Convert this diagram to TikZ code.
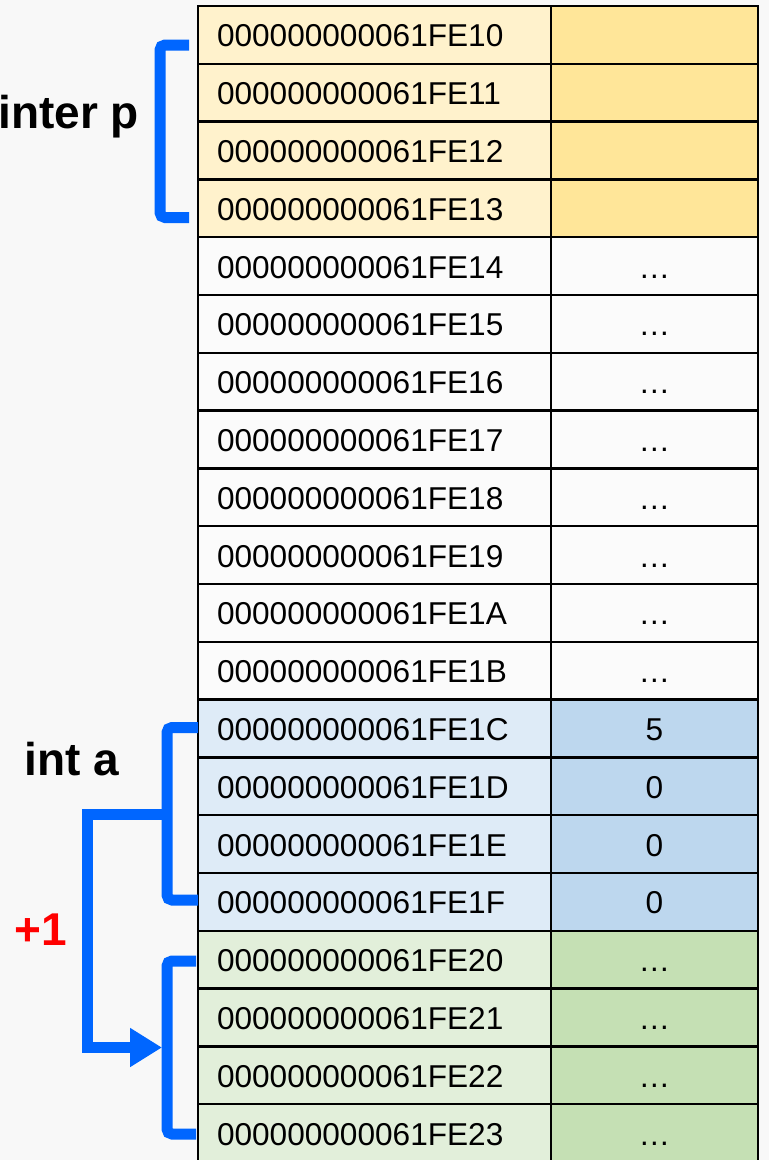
\documentclass[tikz,border=0pt]{standalone}
\usepackage{fontspec}
\setmainfont{Liberation Sans}
\usetikzlibrary{arrows.meta}
\definecolor{bg}{HTML}{F8F8F8}
\definecolor{wcell}{HTML}{FBFBFB}
\definecolor{yL}{HTML}{FFF2CC}
\definecolor{yR}{HTML}{FFE699}
\definecolor{bL}{HTML}{DEEBF7}
\definecolor{bR}{HTML}{BDD7EE}
\definecolor{gL}{HTML}{E2EFDA}
\definecolor{gR}{HTML}{C5E0B4}
\definecolor{brkblue}{HTML}{0066FF}
\definecolor{plusred}{HTML}{FF0000}
\tikzset{
  cell/.style={draw=black, line width=2.5pt, minimum height=57.8pt, inner sep=0pt,
    text height=24pt, text depth=0pt,
    font=\fontsize{31.6}{38}\selectfont},
  addr/.style={cell, text width=315pt, inner xsep=19pt, align=left},
  val/.style={cell, minimum width=207pt, align=center},
  ylw/.style={fill=yL}, ylwR/.style={fill=yR},
  wht/.style={fill=wcell}, whtR/.style={fill=wcell},
  blu/.style={fill=bL}, bluR/.style={fill=bR},
  grn/.style={fill=gL}, grnR/.style={fill=gR},
  brk/.style={draw=brkblue, line width=11pt, rounded corners=5pt},
  conn/.style={draw=brkblue, line width=11pt, -{Triangle[length=32pt,width=37pt]}},
  lbl/.style={font=\fontsize{46}{50}\selectfont\bfseries, inner sep=0pt},
}
\begin{document}
\begin{tikzpicture}[x=1pt,y=-1pt]
\useasboundingbox (0,0) rectangle (769,1160);
\clip (0,0) rectangle (769,1160);
\fill[bg] (0,0) rectangle (769,1160);
\foreach \r/\h/\s/\v in {0/10/ylw/{},1/11/ylw/{},2/12/ylw/{},3/13/ylw/{},
  4/14/wht/…,5/15/wht/…,6/16/wht/…,7/17/wht/…,8/18/wht/…,9/19/wht/…,10/1A/wht/…,11/1B/wht/…,
  12/1C/blu/5,13/1D/blu/0,14/1E/blu/0,15/1F/blu/0,
  16/20/grn/…,17/21/grn/…,18/22/grn/…,19/23/grn/…}{
  \node[addr,\s] (a\r) at (374.5,{34.9+57.8*\r}) {000000000061FE\h};
  \node[val,\s R] (v\r) at (654.5,{34.9+57.8*\r}) {\v};
}
% pointer p bracket
\coordinate (p1) at (189,45);
\coordinate (p2) at (160,45);
\coordinate (p3) at (160,217.5);
\coordinate (p4) at (189,217.5);
\draw[brk] (p1) -- (p2) -- (p3) -- (p4);
% int a bracket
\coordinate (i1) at (198,727.5);
\coordinate (i2) at (167,727.5);
\coordinate (i3) at (167,900);
\coordinate (i4) at (198,900);
\draw[brk] (i1) -- (i2) -- (i3) -- (i4);
% next int bracket
\coordinate (g1) at (196,961);
\coordinate (g2) at (167,961);
\coordinate (g3) at (167,1134);
\coordinate (g4) at (196,1134);
\draw[brk] (g1) -- (g2) -- (g3) -- (g4);
% +1 connector
\coordinate (am) at (167,814);
\coordinate (c1) at (87.5,814);
\coordinate (c2) at (87.5,1047.5);
\coordinate (gt) at (162,1047.5);
\draw[conn] (am) -- (c1) -- (c2) -- (gt);
% labels
\node[lbl, anchor=base east] (lp) at (139,128) {inter p};
\node[lbl, anchor=base] (la) at (72,775) {int a};
\node[lbl, anchor=base, text=plusred] (l1) at (40.5,945) {+1};
\end{tikzpicture}
\end{document}
